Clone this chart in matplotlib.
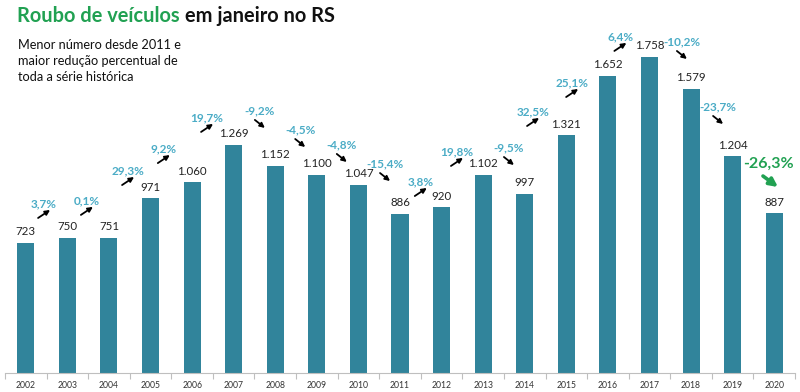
import matplotlib
matplotlib.use("Agg")
import matplotlib.pyplot as plt
from matplotlib.transforms import ScaledTranslation
import numpy as np

years = ["2002", "2003", "2004", "2005", "2006", "2007", "2008", "2009", "2010",
         "2011", "2012", "2013", "2014", "2015", "2016", "2017", "2018", "2019", "2020"]
values = [723, 750, 751, 971, 1060, 1269, 1152, 1100, 1047,
          886, 920, 1102, 997, 1321, 1652, 1758, 1579, 1204, 887]
value_labels = ["723", "750", "751", "971", "1.060", "1.269", "1.152", "1.100", "1.047",
                "886", "920", "1.102", "997", "1.321", "1.652", "1.758", "1.579", "1.204", "887"]
pct_labels = ["3,7%", "0,1%", "29,3%", "9,2%", "19,7%", "-9,2%", "-4,5%", "-4,8%", "-15,4%",
              "3,8%", "19,8%", "-9,5%", "32,5%", "25,1%", "6,4%", "-10,2%", "-23,7%", "-26,3%"]

# layout of the change annotations (x offset from the later bar, height in data units)
pct_xoff = [-0.56, -0.53, -0.54, -0.68, -0.64, -0.37, -0.40, -0.40, -0.36,
            -0.50, -0.63, -0.38, -0.80, -0.86, -0.70, -0.22, -0.35, -0.15]
pct_y = [939, 956, 1122, 1244, 1417, 1456, 1350, 1267, 1161,
         1061, 1228, 1250, 1450, 1611, 1867, 1839, 1478, 1161]

FONT = "Lato"
BAR = "#31849B"
CYAN = "#4BACC6"
GREEN = "#21A152"

fig = plt.figure(figsize=(8, 3.92), dpi=100)
ax = fig.add_axes([5 / 800, 19 / 392, 790 / 800, 360 / 392])
x = np.arange(len(years))
ax.bar(x, values, width=0.41, color=BAR, zorder=2)
ax.set_xlim(-0.5, len(years) - 0.5)
ax.set_ylim(0, 2000)

for s in ["top", "right", "left"]:
    ax.spines[s].set_visible(False)
ax.spines["bottom"].set_color("#BFBFBF")
ax.spines["bottom"].set_linewidth(0.8)
ax.set_yticks([])
ax.set_xticks(x)
ax.set_xticklabels(years, fontsize=6.2, family=FONT, color="#333333")
ax.tick_params(axis="x", which="major", length=0, pad=6)
ax.set_xticks(np.arange(-0.5, len(years)), minor=True)
ax.tick_params(axis="x", which="minor", length=4, color="#BFBFBF", width=0.8)

for xi, v, lab in zip(x, values, value_labels):
    ax.annotate(lab, (xi, v), xytext=(0, 4), textcoords="offset points",
                ha="center", va="bottom", fontsize=8.3, family=FONT, color="#222222")


def tr(dx, dy):
    return ax.transData + ScaledTranslation(dx / 100, -dy / 100, fig.dpi_scale_trans)


for i, (lab, xo, yy) in enumerate(zip(pct_labels, pct_xoff, pct_y)):
    later = i + 1
    lx = later + xo
    up = values[later] >= values[i]
    last = i == len(pct_labels) - 1
    color = GREEN if last else CYAN
    fs = 11.5 if last else 8.5
    ax.text(lx, yy, lab, ha="center", va="center", fontsize=fs, family=FONT,
            fontweight="bold", color=color)

    if last:
        tail, head, col, lw, ms = (-5, 12), (10, 23), GREEN, 2.6, 12
    elif up:
        tail, head, col, lw, ms = (-6, 14), (6, 6), "black", 1.3, 7
    else:
        tail, head, col, lw, ms = (-5, 9), (5, 17), "black", 1.3, 7
    ax.annotate("", xy=(lx, yy), xycoords=tr(*head), xytext=(lx, yy), textcoords=tr(*tail),
                arrowprops=dict(arrowstyle="-|>", color=col, lw=lw, mutation_scale=ms,
                                shrinkA=0, shrinkB=0))

# title
TY = 1 - 22 / 392
t1 = fig.text(17 / 800, TY, "Roubo de veículos", fontsize=14.4, family=FONT,
              fontweight="bold", color=GREEN, va="baseline", ha="left")
fig.canvas.draw()
bb = t1.get_window_extent()
fig.text((bb.x1 + 5) / 800, TY, "em janeiro no RS", fontsize=14.4, family=FONT,
         fontweight="bold", color="#111111", va="baseline", ha="left")

sub = ["Menor número desde 2011 e", "maior redução percentual de", "toda a série histórica"]
for k, line in enumerate(sub):
    fig.text(18 / 800, 1 - (49 + 16 * k) / 392, line, fontsize=9.2, family=FONT,
             color="#111111", va="baseline", ha="left")

fig.savefig("out.png", dpi=100)
